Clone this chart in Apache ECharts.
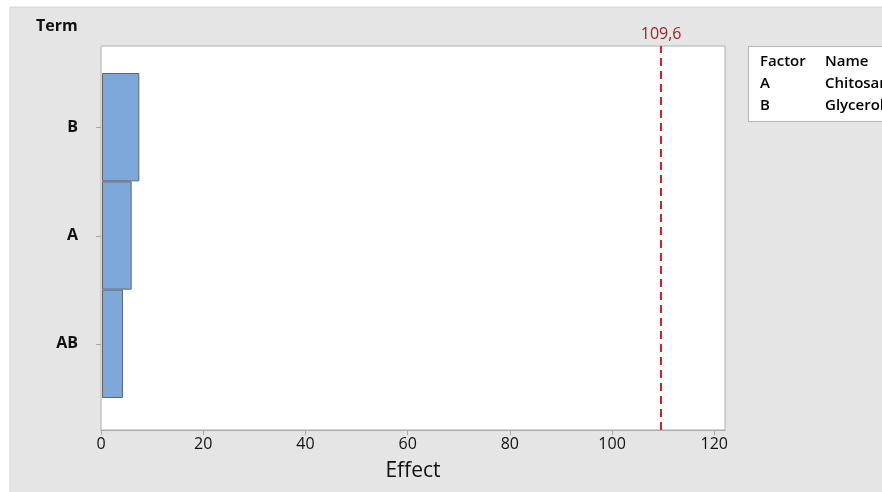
<!DOCTYPE html>
<html>
<head>
<meta charset="utf-8">
<script src="https://cdn.jsdelivr.net/npm/echarts@6/dist/echarts.min.js"></script>
<style>
  html, body { margin: 0; padding: 0; background: #ffffff; }
  #chart { width: 882px; height: 492px; }
</style>
</head>
<body>
<div id="chart"></div>
<script>
// Pareto chart of standardized effects
const terms = ['AB', 'A', 'B'];           // bottom to top
const effects = [4.1, 5.8, 7.3];
const referenceValue = 109.6;
const referenceLabel = '109,6';
const xTicks = [0, 20, 40, 60, 80, 100, 120];
const factorRows = [['Factor', 'Name'], ['A', 'Chitosan'], ['B', 'Glycerol']];

const FONT = '"Open Sans", "Noto Sans", sans-serif';
const chart = echarts.init(document.getElementById('chart'), null, { renderer: 'canvas' });

const plotLeft = 101, plotRight = 725, plotTop = 46, plotBottom = 430;
const xMax = 122.1;

const legendGraphics = [
  { type: 'rect', shape: { x: 748.5, y: 46.5, width: 160, height: 75 },
    style: { fill: '#ffffff', stroke: '#b4b4b4', lineWidth: 1 }, z: 10 }
];
factorRows.forEach((row, i) => {
  legendGraphics.push({ type: 'text', x: 760, y: 62 + i * 22, z: 11,
    style: { text: row[0], font: '600 15px ' + FONT, fill: '#000', textVerticalAlign: 'middle' } });
  legendGraphics.push({ type: 'text', x: 825, y: 62 + i * 22, z: 11,
    style: { text: row[1], font: '600 15px ' + FONT, fill: '#000', textVerticalAlign: 'middle' } });
});

const option = {
  backgroundColor: '#ffffff',
  animation: false,
  graphic: [
    { type: 'rect', shape: { x: 10, y: 7, width: 880, height: 490 },
      style: { fill: '#e5e5e5', stroke: '#d4d4d4', lineWidth: 1 }, z: -10 },
    { type: 'text', x: 36, y: 26, z: 5,
      style: { text: 'Term', font: 'bold 16px ' + FONT, fill: '#111', textVerticalAlign: 'middle' } },
    ...legendGraphics
  ],
  grid: [
    { left: plotLeft, right: 882 - plotRight, top: plotTop, bottom: 492 - plotBottom,
      show: true, backgroundColor: '#ffffff', borderColor: '#b0b0b0', borderWidth: 1 },
    { left: plotLeft + 1, right: 882 - plotRight, top: 73, bottom: 492 - 398 }
  ],
  xAxis: [
    { type: 'value', gridIndex: 0, min: 0, max: xMax, interval: 20,
      name: 'Effect', nameLocation: 'middle', nameGap: 31,
      nameTextStyle: { fontFamily: FONT, fontSize: 21, color: '#111' },
      axisLine: { show: true, lineStyle: { color: '#a8a8a8' } },
      axisTick: { show: true, length: 5, lineStyle: { color: '#a8a8a8' } },
      splitLine: { show: false },
      axisLabel: { fontFamily: FONT, fontSize: 16, color: '#111', margin: 6,
        showMaxLabel: false,
        formatter: v => (xTicks.includes(v) ? String(v) : '') } },
    { type: 'value', gridIndex: 1, min: 0, max: xMax - 122.1 / 623, show: false }
  ],
  yAxis: [
    { type: 'value', gridIndex: 0, show: false, min: 0, max: 1 },
    { type: 'category', gridIndex: 1, data: terms,
      axisLine: { show: false },
      axisTick: { show: false },
      axisLabel: { fontFamily: FONT, fontWeight: 'bold', fontSize: 16, color: '#111', margin: 24 } }
  ],
  series: [
    { type: 'bar', xAxisIndex: 1, yAxisIndex: 1, data: effects,
      barCategoryGap: '0%', barWidth: '100%',
      itemStyle: { color: '#7ea7da', borderColor: '#5f646b', borderWidth: 1 } },
    // frame series carrying the reference line across the full plot height
    { type: 'line', xAxisIndex: 0, yAxisIndex: 0, data: [], silent: true,
      markLine: {
        symbol: 'none', silent: true,
        lineStyle: { color: '#d9202a', type: [8, 5], width: 2 },
        label: { show: true, position: 'end', formatter: referenceLabel, distance: 4,
          fontFamily: FONT, fontSize: 16, color: '#a01e28' },
        data: [{ xAxis: referenceValue }]
      } }
  ]
};

chart.setOption(option);

// category ticks just outside the left border, at the band centres
const ticks = terms.map((t, i) => {
  const p = chart.convertToPixel({ xAxisIndex: 1, yAxisIndex: 1 }, [0, i]);
  return { type: 'line', z: 5, shape: { x1: plotLeft - 5, y1: Math.round(p[1]) + 0.5, x2: plotLeft, y2: Math.round(p[1]) + 0.5 },
    style: { stroke: '#a8a8a8', lineWidth: 1 } };
});
chart.setOption({ graphic: option.graphic.concat(ticks) });
</script>
</body>
</html>
